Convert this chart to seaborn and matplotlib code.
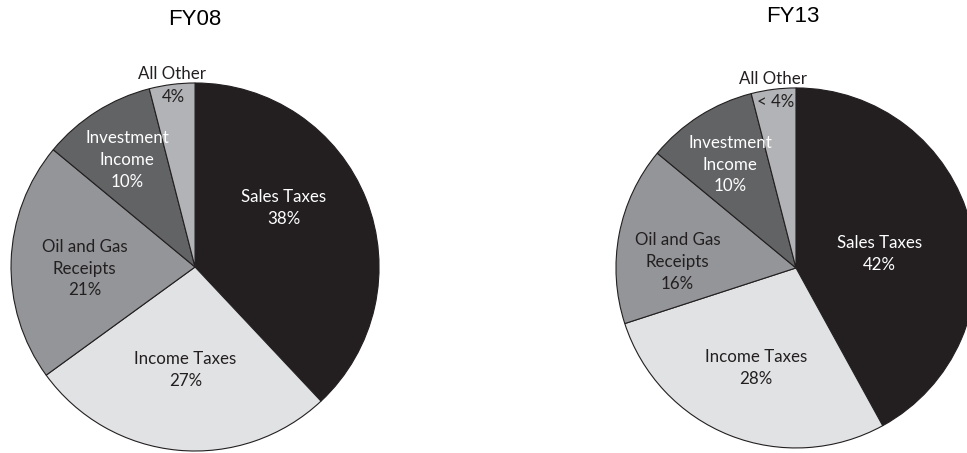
import matplotlib
matplotlib.use("Agg")
import matplotlib.pyplot as plt
import numpy as np
import seaborn as sns

# revenue shares, in the clockwise order from 12 o'clock
categories = ["Sales Taxes", "Income Taxes", "Oil and Gas\nReceipts", "Investment\nIncome", "All Other"]
fy08_share = [38, 27, 21, 10, 4]
fy13_share = [42, 28, 16, 10, 4]
fy08_pct = ["38%", "27%", "21%", "10%", "4%"]
fy13_pct = ["42%", "28%", "16%", "10%", "< 4%"]
titles = ["FY08", "FY13"]

colors = sns.color_palette(["#231F20", "#E1E2E4", "#939598", "#626365", "#B1B3B6"])
text_colors = ["white", "#231F20", "#231F20", "white", "#231F20"]

sns.set_theme(style="white")
plt.rcParams['font.family'] = ['Lato', 'DejaVu Sans']

fig = plt.figure(figsize=(9.67, 4.53), dpi=100)

# axes boxes in figure fractions: [left, bottom, width, height]
boxes = [[0.0114, 0.0044, 0.3806, 0.8124],
         [0.637, 0.011, 0.3723, 0.795]]
title_pos = [(0.2017, 0.958), (0.820, 0.964)]
# label distance from centre (fraction of radius) and angle nudge (deg)
label_r = [[0.58, 0.56, 0.60, 0.69, 1.0],
           [0.47, 0.60, 0.66, 0.68, 1.0]]
label_da = [[12, 0, 2.6, 0, 0],
            [-5, 0, 8, 0, 0]]
FS = 12.2


def draw(ax, shares, pcts, r_list, da_list):
    wedges, _ = ax.pie(shares, colors=colors, startangle=90, counterclock=False,
                       radius=1.0, wedgeprops=dict(edgecolor="#231F20", linewidth=0.8))
    for i, w in enumerate(wedges):
        mid = np.deg2rad((w.theta1 + w.theta2) / 2 + da_list[i])
        x = r_list[i] * np.cos(mid)
        y = r_list[i] * np.sin(mid)
        if i == 4:
            ax.text(x, y + 0.055, "All Other", ha="center", va="center",
                    color="#231F20", fontsize=FS)
            ax.text(x + 0.01, y - 0.07, pcts[i], ha="center", va="center",
                    color="#231F20", fontsize=FS)
        else:
            ax.text(x, y, categories[i] + "\n" + pcts[i], ha="center", va="center",
                    color=text_colors[i], fontsize=FS, linespacing=1.45)
    ax.set_xlim(-1, 1)
    ax.set_ylim(-1, 1)
    ax.set_aspect("equal")
    ax.axis("off")


for k, shares in enumerate([fy08_share, fy13_share]):
    ax = fig.add_axes(boxes[k])
    pcts = [fy08_pct, fy13_pct][k]
    draw(ax, shares, pcts, label_r[k], label_da[k])
    fig.text(title_pos[k][0], title_pos[k][1], titles[k], ha="center", va="center",
             fontsize=16, family="Liberation Sans", color="black")

fig.savefig("out.png", dpi=100)
